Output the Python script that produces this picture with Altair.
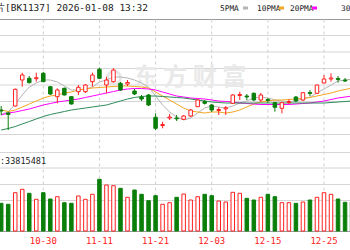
import altair as alt
import pandas as pd

dates = ["10-22","10-23","10-24","10-27","10-28","10-29","10-30","10-31","11-03","11-04",
         "11-05","11-06","11-07","11-10","11-11","11-12","11-13","11-14","11-17","11-18",
         "11-19","11-20","11-21","11-24","11-25","11-26","11-27","11-28","12-01","12-02",
         "12-03","12-04","12-05","12-08","12-09","12-10","12-11","12-12","12-15","12-16",
         "12-17","12-18","12-19","12-22","12-23","12-24","12-25","12-26","12-29","12-30","12-31"]
open_ = [90, 87, 94, 120, 121.7, 121.3, 126.7, 113.3, 103.3, 111.7,
         103.3, 108.3, 108.3, 118.3, 130.7, 115, 118.3, 116.7, 116, 109,
         103, 105, 82.7, 74.5, 82, 82, 80.7, 84, 93.3, 98.3,
         95, 89.5, 91.2, 96.7, 104.5, 104, 106.7, 100, 100.5, 97.3,
         91.7, 97.5, 103, 100, 107.5, 106.7, 117, 121, 121.5, 120, 120.5]
close = [89, 85.5, 110.7, 125, 117.3, 122.3, 118.3, 106, 110, 105,
         96, 112.7, 115, 125, 121.7, 120, 130, 110, 117.5, 106,
         101, 95, 71.7, 75.5, 83, 81.2, 84, 90, 100, 96.7,
         90, 90.5, 92.2, 105, 105.5, 103, 100, 105, 99.5, 92.7,
         97.3, 98.5, 99, 107.3, 106.5, 115, 121, 122, 120.5, 119, 119.5]
high = [94, 88.3, 111.5, 127.3, 124, 127.3, 128, 114, 111.7, 112.5,
        104, 115, 116, 127.3, 132.3, 123.3, 131.7, 118, 120, 111,
        105, 106, 86.7, 78.3, 86, 85, 85, 91, 101, 100,
        96, 92.7, 94, 106, 108.3, 106, 107.5, 107, 102, 98.3,
        98, 100.7, 104, 108, 110, 115.5, 125, 126.7, 124, 122, 123]
low = [85, 70, 93.5, 113.3, 116.7, 118.3, 118, 105, 96.7, 104.5,
       95.5, 105, 107, 113.3, 121, 106.7, 117.3, 109, 114, 105,
       99, 94, 70, 71.7, 80, 79, 80, 83, 93, 95.5,
       88, 85, 85, 96, 100, 100, 99, 98, 97, 88.3,
       86.7, 96, 98, 99, 104, 106, 116.5, 118.3, 117.3, 118, 118]
volume = [27.7, 26.7, 38.3, 41.7, 37.7, 31.7, 38.3, 32, 34.3, 28.3,
          27.7, 35, 31.7, 36.7, 51.7, 46, 45.3, 42.7, 33.7, 41,
          36.7, 30.3, 35.3, 26.7, 28.3, 33.7, 37, 31, 34.3, 36.7,
          35.3, 30, 29, 38.7, 37.7, 32.7, 31, 33.7, 36.7, 34.3,
          28.3, 28.3, 27.7, 29, 31, 33.7, 38.3, 36.7, 32, 28.7, 29.3]
ma5 = [86, 88, 96, 105, 113, 117, 120, 120, 118, 114,
       110, 110, 111, 113, 118, 120, 123, 123, 122, 120,
       117, 113, 104, 95, 88, 83, 80, 82, 87, 92,
       94, 93, 92, 94, 97, 99, 102, 103, 102, 100,
       99, 98, 99, 101, 103, 107, 111, 115, 119, 120, 121]
ma10 = [90, 88.5, 90, 93, 96, 99, 102, 104, 105, 107,
        108, 110, 111, 112, 112.5, 113, 113.5, 114, 114, 113.5,
        113, 112, 108, 104, 100, 96, 92, 89, 88, 87,
        88, 88, 87, 88, 90, 93, 96, 98, 99, 100,
        100, 100.5, 101, 101.5, 102.5, 104, 105.5, 107, 109, 110.5, 112]
ma20 = [85, 87, 88, 89.5, 91, 93, 95, 96.5, 98, 99,
        100, 101, 102.5, 104, 105.5, 107, 108.5, 110, 111, 111.5,
        111.5, 111, 110, 108, 106, 104, 103, 102, 101.5, 101,
        100, 99, 98.5, 98, 97, 96.5, 96, 95.5, 95.5, 95.5,
        95.5, 95.5, 96, 96.5, 97, 98, 99, 100.5, 102, 103, 104]
ma30 = [70, 71.5, 73.5, 76, 78.5, 81, 83.5, 85.5, 87, 88.5,
        90, 91, 92, 93, 94, 95, 97, 99, 101, 102.5,
        103.5, 104, 104, 103.5, 103, 102.5, 102, 101, 100, 99,
        98, 97.5, 97, 97, 97, 97, 97, 97, 97, 97,
        97, 97, 97, 97, 97, 97, 97, 97.5, 98, 98.5, 99]
x_labels = ["10-30", "11-11", "11-21", "12-03", "12-15", "12-25"]
ma_names = ["5PMA", "10PMA", "20PMA", "30PMA"]
ma_colors = ["#b4b4b4", "#f5a623", "#ff00ff", "#2e8b57"]

UP = "#ff2020"
DOWN = "#0a7f0a"

df = pd.DataFrame({"date": dates, "open": open_, "close": close, "high": high,
                   "low": low, "volume": volume})
df["idx"] = range(len(df))
df["up"] = df["close"] >= df["open"]
df["x1"] = df["idx"] - 0.25
df["x2"] = df["idx"] + 0.25

ma_df = pd.concat([
    pd.DataFrame({"idx": range(len(dates)), "value": vals, "ma": name})
    for name, vals in zip(ma_names, [ma5, ma10, ma20, ma30])
])

lab_df = df[df["date"].isin(x_labels)]

xs = alt.Scale(domain=[-0.170, 49.705], nice=False, zero=False)
ps = alt.Scale(domain=[0, 200], range=[200, 0], nice=False, zero=False)
vs = alt.Scale(domain=[0, 100], range=[231, 131], nice=False, zero=False)

one = pd.DataFrame({"a": [0]})
layers = []

# horizontal grid
grid_y = [35.5, 52, 68.5, 85, 101.5, 118, 134.5, 152.5, 168, 184.5, 200.5, 216]
for gy in grid_y:
    layers.append(alt.Chart(one).mark_rule(color="#d6d6d6", strokeWidth=1).encode(
        x=alt.value(0), x2=alt.value(350), y=alt.value(gy)))
layers.append(alt.Chart(one).mark_rule(color="#9a9a9a", strokeWidth=1).encode(
    x=alt.value(0), x2=alt.value(350), y=alt.value(19.5)))
layers.append(alt.Chart(one).mark_rule(color="#9a9a9a", strokeWidth=1).encode(
    x=alt.value(0), x2=alt.value(350), y=alt.value(231.5)))

# vertical dashed
layers.append(alt.Chart(lab_df).mark_rule(color="#cfcfcf", strokeDash=[3, 3], strokeWidth=1).encode(
    x=alt.X("idx:Q", scale=xs, axis=None), y=alt.value(19.5), y2=alt.value(231)))

# watermark
layers.append(alt.Chart(one).mark_point(shape="circle", filled=False, color="#e6e6e6",
                                        strokeWidth=3, size=170, opacity=1).encode(
    x=alt.value(114), y=alt.value(78)))
layers.append(alt.Chart(one).mark_text(text="东 方 财 富", font="Noto Sans CJK SC", fontSize=24,
                                       fontWeight="bold", color="#e9e9e9", baseline="middle",
                                       align="center").encode(x=alt.value(190), y=alt.value(78)))

# MA lines
layers.append(alt.Chart(ma_df).mark_line(strokeWidth=1, clip=True).encode(
    x=alt.X("idx:Q", scale=xs, axis=None),
    y=alt.Y("value:Q", scale=ps, axis=None),
    color=alt.Color("ma:N", scale=alt.Scale(domain=ma_names, range=ma_colors), legend=None),
    detail="ma:N"))

color_enc = alt.condition("datum.up", alt.value(UP), alt.value(DOWN))
fill_enc = alt.condition("datum.up", alt.value("#ffffff"), alt.value(DOWN))

# wicks
layers.append(alt.Chart(df).mark_rule(strokeWidth=1, clip=True).encode(
    x=alt.X("idx:Q", scale=xs, axis=None),
    y=alt.Y("high:Q", scale=ps, axis=None), y2="low:Q", color=color_enc))
# bodies
layers.append(alt.Chart(df).mark_rect(strokeWidth=1, clip=True).encode(
    x=alt.X("x1:Q", scale=xs, axis=None), x2="x2:Q",
    y=alt.Y("open:Q", scale=ps, axis=None), y2="close:Q",
    stroke=color_enc, fill=fill_enc))
# volume
layers.append(alt.Chart(df).mark_rect(strokeWidth=1, clip=True).encode(
    x=alt.X("x1:Q", scale=xs, axis=None), x2="x2:Q",
    y=alt.Y("volume:Q", scale=vs, axis=None), y2=alt.datum(0),
    stroke=color_enc, fill=fill_enc))

# x labels
layers.append(alt.Chart(lab_df).mark_text(font="DejaVu Sans Mono", fontSize=9, color="#ff2020",
                                          baseline="middle").encode(
    x=alt.X("idx:Q", scale=xs, axis=None), y=alt.value(240.5), text="date:N"))

# header texts
layers.append(alt.Chart(one).mark_text(text="存储芯片[BK1137] 2026-01-08 13:32", font="DejaVu Sans Mono",
                                       fontSize=9.5, color="#222", align="right",
                                       baseline="alphabetic").encode(x=alt.value(148), y=alt.value(11)))
layers.append(alt.Chart(one).mark_text(text=":33815481", font="DejaVu Sans Mono", fontSize=8.5,
                                       color="#222", align="left", baseline="middle").encode(
    x=alt.value(0), y=alt.value(160.5)))

leg_x = [220, 257, 290, 341]
sw_x = [243, 279, 312, 372]
for name, col, lx, sx in zip(ma_names, ma_colors, leg_x, sw_x):
    layers.append(alt.Chart(one).mark_text(text=name, font="DejaVu Sans Mono", fontSize=7.8,
                                           color="#222", align="left", baseline="alphabetic").encode(
        x=alt.value(lx), y=alt.value(11)))
    layers.append(alt.Chart(one).mark_rect(color=col).encode(
        x=alt.value(sx), x2=alt.value(sx + 5), y=alt.value(6.5), y2=alt.value(9.5)))

chart = alt.layer(*layers).resolve_scale(y="independent").properties(
    width=350, height=250, padding=0, autosize="none",
    background="white").configure_view(strokeWidth=0)
chart.save("out.html", embed_options={"renderer": "svg", "actions": False})
